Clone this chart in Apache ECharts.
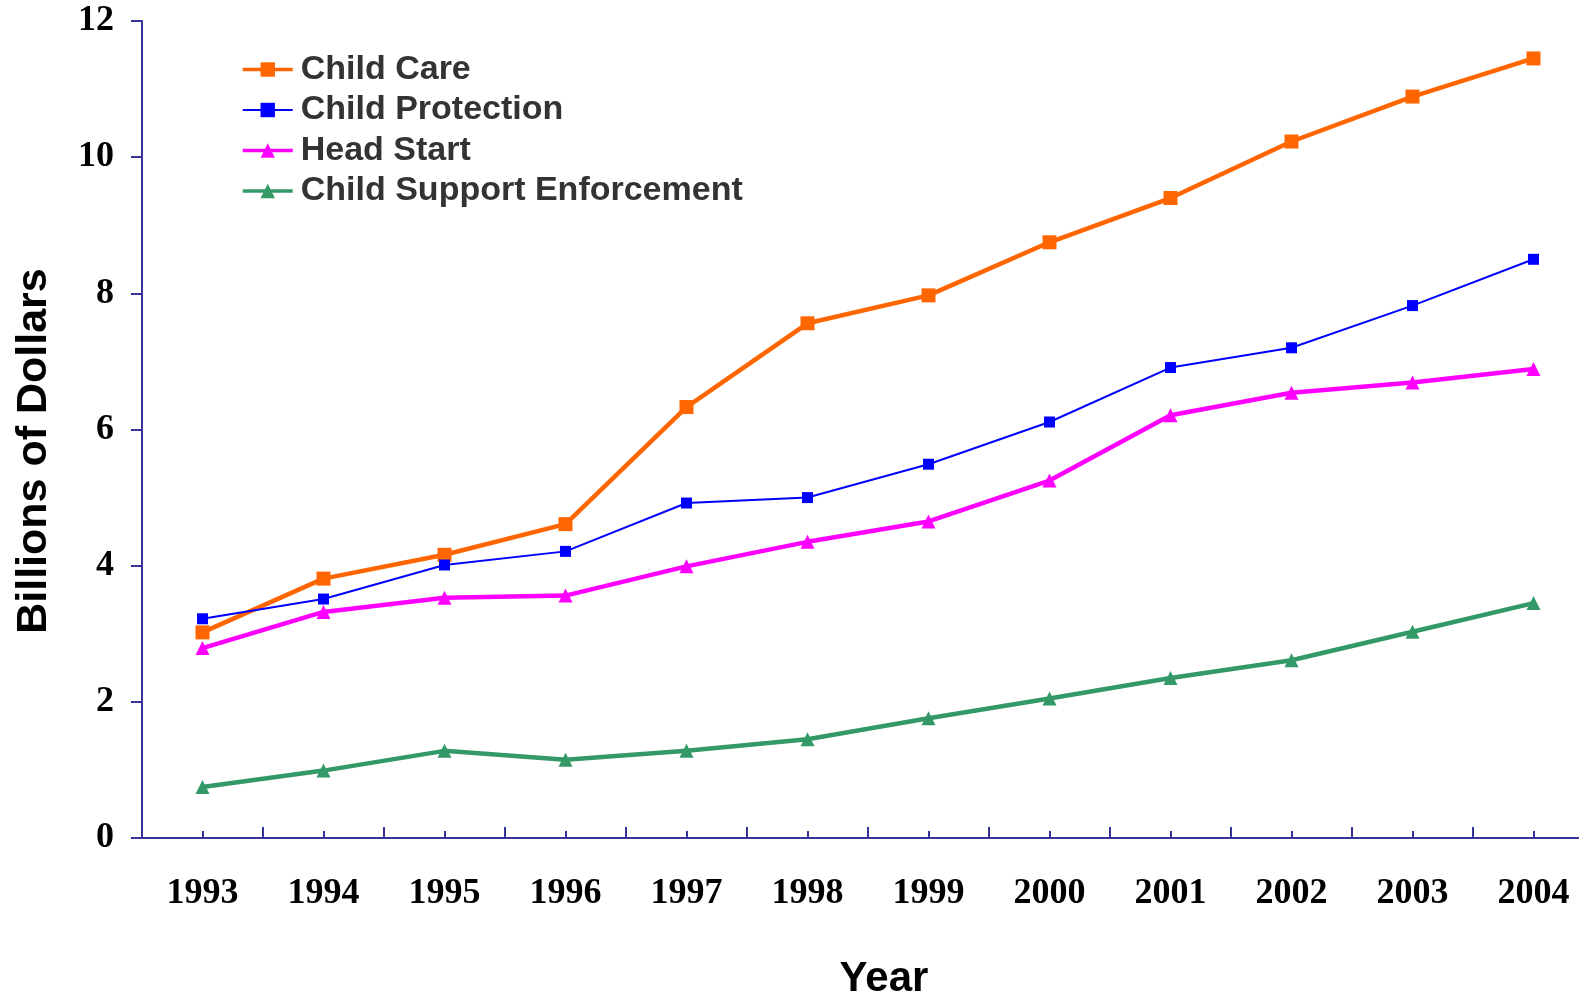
<!DOCTYPE html>
<html>
<head>
<meta charset="utf-8">
<script src="https://cdn.jsdelivr.net/npm/echarts@6/dist/echarts.min.js"></script>
<style>
  html, body { margin: 0; padding: 0; background: #ffffff; }
  #chart { width: 1579px; height: 995px; }
</style>
</head>
<body>
<div id="chart"></div>
<script>
// Federal spending on child and family programs, billions of dollars
const years = ['1993', '1994', '1995', '1996', '1997', '1998', '1999', '2000', '2001', '2002', '2003', '2004'];
const childCare = [3.02, 3.81, 4.16, 4.61, 6.33, 7.56, 7.97, 8.75, 9.40, 10.23, 10.89, 11.45];
const childProtection = [3.22, 3.51, 4.01, 4.21, 4.92, 5.00, 5.49, 6.11, 6.91, 7.20, 7.82, 8.50];
const headStart = [2.79, 3.32, 3.53, 3.56, 3.99, 4.35, 4.65, 5.25, 6.21, 6.54, 6.69, 6.89];
const childSupport = [0.75, 0.99, 1.28, 1.15, 1.28, 1.45, 1.76, 2.05, 2.35, 2.61, 3.03, 3.45];
const yTicks = [0, 2, 4, 6, 8, 10, 12];

const axisColor = '#333399';
const serifBold = { fontFamily: '"Liberation Serif", "Times New Roman", serif', fontWeight: 'bold', color: '#000000' };

const chart = echarts.init(document.getElementById('chart'), null, { renderer: 'canvas' });

function lineSeries(name, data, color, width, symbol, size) {
  return {
    name: name,
    type: 'line',
    data: data,
    xAxisIndex: 0,
    yAxisIndex: 0,
    symbol: symbol,
    symbolSize: size,
    showAllSymbol: true,
    lineStyle: { color: color, width: width },
    itemStyle: { color: color },
    emphasis: { disabled: true },
    animation: false,
    z: 3
  };
}

chart.setOption({
  backgroundColor: '#ffffff',
  animation: false,
  // the plot runs slightly past the right edge of the canvas
  grid: { left: 142, top: 21, bottom: 157, right: -15, containLabel: false, outerBoundsMode: 'none' },
  legend: {
    orient: 'vertical',
    left: 236,
    top: 47,
    itemWidth: 50,
    itemHeight: 18,
    itemGap: 5.5,
    textStyle: {
      fontFamily: '"Liberation Sans", Arial, sans-serif',
      fontWeight: 'bold',
      fontSize: 34,
      lineHeight: 35,
      color: '#333333',
      padding: [0, 0, 0, 3]
    },
    data: [
      { name: 'Child Care', lineStyle: { width: 3.5 } },
      { name: 'Child Protection', lineStyle: { width: 2 } },
      { name: 'Head Start', lineStyle: { width: 3.5 } },
      { name: 'Child Support Enforcement', lineStyle: { width: 3.5 } }
    ]
  },
  xAxis: [
    {
      type: 'category',
      data: years,
      boundaryGap: true,
      axisLine: { show: true, lineStyle: { color: axisColor, width: 2 } },
      axisTick: { show: true, inside: true, length: 11, lineStyle: { color: axisColor, width: 2 } },
      axisLabel: Object.assign({ fontSize: 36, margin: 38 }, serifBold),
      splitLine: { show: false }
    },
    {
      // short ticks marking each year's position
      type: 'category',
      data: years,
      position: 'bottom',
      boundaryGap: true,
      axisLine: { show: false },
      axisTick: { show: true, inside: true, alignWithLabel: true, length: 7, lineStyle: { color: axisColor, width: 2 } },
      axisLabel: { show: false },
      splitLine: { show: false }
    }
  ],
  yAxis: {
    type: 'value',
    min: yTicks[0],
    max: yTicks[yTicks.length - 1],
    interval: yTicks[1] - yTicks[0],
    axisLine: { show: true, lineStyle: { color: axisColor, width: 2 } },
    axisTick: { show: true, inside: false, length: 11, lineStyle: { color: axisColor, width: 2 } },
    axisLabel: Object.assign({ fontSize: 36, margin: 28 }, serifBold),
    splitLine: { show: false }
  },
  graphic: [
    {
      type: 'text',
      x: 34,
      y: 451,
      rotation: Math.PI / 2,
      style: {
        text: 'Billions of Dollars',
        fontFamily: '"Liberation Sans", Arial, sans-serif',
        fontWeight: 'bold',
        fontSize: 43,
        fill: '#000000',
        align: 'center',
        verticalAlign: 'middle'
      }
    },
    {
      type: 'text',
      x: 884,
      y: 979,
      style: {
        text: 'Year',
        fontFamily: '"Liberation Sans", Arial, sans-serif',
        fontWeight: 'bold',
        fontSize: 42,
        fill: '#000000',
        align: 'center',
        verticalAlign: 'middle'
      }
    }
  ],
  series: [
    lineSeries('Child Care', childCare, '#FF6600', 4.5, 'rect', 14),
    lineSeries('Child Protection', childProtection, '#0000FF', 2, 'rect', 11),
    lineSeries('Head Start', headStart, '#FF00FF', 4.5, 'triangle', 14),
    lineSeries('Child Support Enforcement', childSupport, '#339966', 4.5, 'triangle', 14)
  ]
});
</script>
</body>
</html>
